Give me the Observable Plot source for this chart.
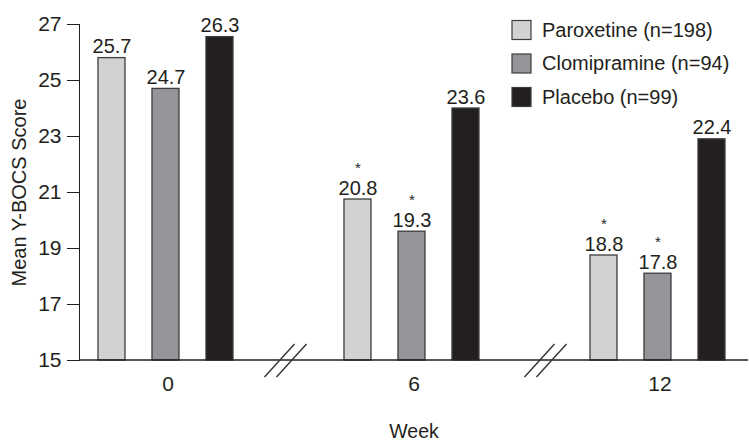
<!DOCTYPE html>
<html><head><meta charset="utf-8">
<script src="https://cdn.jsdelivr.net/npm/d3@7"></script>
<script src="https://cdn.jsdelivr.net/npm/@observablehq/plot@0.6"></script>
<style>body{margin:0;background:#fff} #chart{width:749px;height:442px}</style>
</head><body><div id="chart"></div>
<script>
const weeks = [0, 6, 12];
const treatments = ["Paroxetine", "Clomipramine", "Placebo"];
const legendLabels = ["Paroxetine (n=198)", "Clomipramine (n=94)", "Placebo (n=99)"];
// printed value labels
const paroxetineLabels = [25.7, 20.8, 18.8];
const clomipramineLabels = [24.7, 19.3, 17.8];
const placeboLabels = [26.3, 23.6, 22.4];
// bar heights as drawn in the figure
const paroxetineBars = [25.8, 20.75, 18.75];
const clomipramineBars = [24.7, 19.6, 18.1];
const placeboBars = [26.55, 24.0, 22.9];
const paroxetineSignificant = [false, true, true];
const clomipramineSignificant = [false, true, true];
const placeboSignificant = [false, false, false];
const yTicks = [15, 17, 19, 21, 23, 25, 27];
const colors = ["#d1d2d4", "#939598", "#231f20"];

const labelSeries = [paroxetineLabels, clomipramineLabels, placeboLabels];
const barSeries = [paroxetineBars, clomipramineBars, placeboBars];
const sigSeries = [paroxetineSignificant, clomipramineSignificant, placeboSignificant];
const data = weeks.flatMap((w, i) => treatments.map((t, j) => ({
  week: w, treatment: t, bar: barSeries[j][i], label: labelSeries[j][i], sig: sigSeries[j][i]
})));

const ink = "#231f20";
const font = "'Liberation Sans', Arial, Helvetica, sans-serif";

const plot = Plot.plot({
  width: 749,
  height: 442,
  marginLeft: 79,
  marginRight: 1,
  marginTop: 24,
  marginBottom: 82,
  style: {fontFamily: font, fontSize: "21px", color: ink, background: "white", overflow: "visible"},
  fx: {domain: weeks, paddingInner: 0.2805, paddingOuter: 0, round: false, axis: "bottom",
       tickSize: 0, tickPadding: 16, label: "Week", labelAnchor: "center", labelOffset: 77},
  x: {domain: treatments, axis: null, paddingInner: 0.5, paddingOuter: 0.3889, align: 0.452, round: false},
  y: {domain: [15, 27], ticks: yTicks, tickSize: 12, tickPadding: 6, line: true,
      label: "Mean Y-BOCS Score", labelAnchor: "center", labelOffset: 68, labelArrow: "none"},
  color: {domain: treatments, range: colors},
  marks: [
    Plot.barY(data, {fx: "week", x: "treatment", y1: 15, y2: "bar", fill: "treatment",
                     stroke: "#3c3c3c", strokeWidth: 1.3}),
    Plot.text(data, {fx: "week", x: "treatment", y: "bar", text: d => d.label.toFixed(1),
                     lineAnchor: "bottom", dy: -5, fill: ink, fontSize: 20}),
    Plot.text(data.filter(d => d.sig), {fx: "week", x: "treatment", y: "bar", text: () => "*",
                     lineAnchor: "bottom", dy: -27, fill: ink, fontSize: 15})
  ]
});

document.getElementById("chart").appendChild(plot);

const svg = d3.select(plot.tagName.toLowerCase() === "svg" ? plot : plot.querySelector("svg"));
svg.selectAll('[aria-label="y-axis label"] text, [aria-label="y-axis label"]').filter(function () {
  return this.tagName.toLowerCase() === "text" || this.tagName.toLowerCase() === "g";
}).attr("font-size", 20);
svg.selectAll('[aria-label="fx-axis label"]').attr("font-size", 19.5);

const fx = plot.scale("fx");
const y = plot.scale("y");
const y0 = y.apply(15);

// continuous baseline across all groups
svg.append("line")
  .attr("x1", fx.range[0]).attr("x2", fx.range[1])
  .attr("y1", y0).attr("y2", y0)
  .attr("stroke", ink).attr("stroke-width", 1.5);

// axis break marks between groups
const breakShift = [-5, 9];
for (let i = 0; i < weeks.length - 1; i++) {
  const cx = (fx.apply(weeks[i]) + fx.bandwidth + fx.apply(weeks[i + 1])) / 2 + breakShift[i];
  for (const off of [-6, 6]) {
    svg.append("line")
      .attr("x1", cx + off - 15).attr("y1", y0 + 17)
      .attr("x2", cx + off + 15).attr("y2", y0 - 16)
      .attr("stroke", "#333").attr("stroke-width", 1.4);
  }
}

// legend inside plot area
const lg = svg.append("g").attr("font-family", font).attr("font-size", 20)
  .attr("fill", ink).attr("text-anchor", "start");
legendLabels.forEach((lab, i) => {
  const cy = 30 + i * 33.5;
  lg.append("rect").attr("x", 512).attr("y", cy - 9.5).attr("width", 19).attr("height", 19)
    .attr("fill", colors[i]).attr("stroke", "#3c3c3c").attr("stroke-width", 1.2);
  lg.append("text").attr("x", 542).attr("y", cy + 6.5).attr("text-anchor", "start").text(lab);
});
</script>
</body></html>
